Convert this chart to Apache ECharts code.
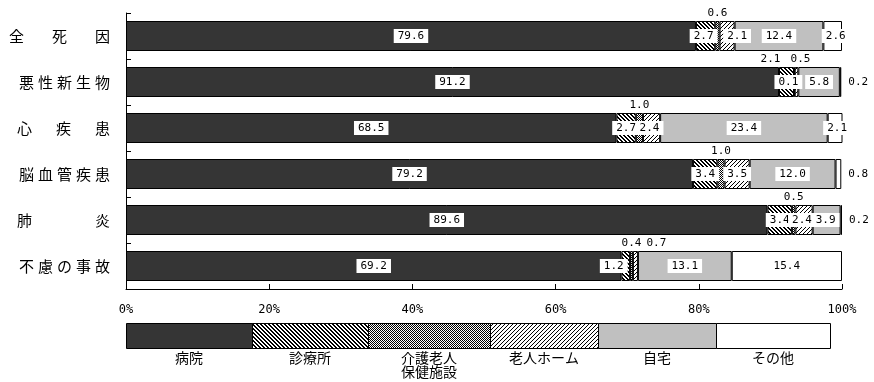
<!DOCTYPE html>
<html>
<head>
<meta charset="utf-8">
<script src="https://cdn.jsdelivr.net/npm/echarts@6/dist/echarts.min.js"></script>
<style>
html,body{margin:0;padding:0;background:#fff;}
#chart{width:874px;height:382px;}
</style>
</head>
<body>
<div id="chart"></div>
<script>
// ---------------- data ----------------
const categories = ['全死因', '悪性新生物', '心疾患', '脳血管疾患', '肺炎', '不慮の事故'];
const seriesNames = ['病院', '診療所', '介護老人保健施設', '老人ホーム', '自宅', 'その他'];
const hospital     = [79.6, 91.2, 68.5, 79.2, 89.6, 69.2];
const clinic       = [2.7, 2.1, 2.7, 3.4, 3.4, 1.2];
const careFacility = [0.6, 0.1, 1.0, 1.0, 0.5, 0.4];
const nursingHome  = [2.1, 0.5, 2.4, 3.5, 2.4, 0.7];
const home         = [12.4, 5.8, 23.4, 12.0, 3.9, 13.1];
const other        = [2.6, 0.2, 2.1, 0.8, 0.2, 15.4];
const xTickValues  = [0, 20, 40, 60, 80, 100];
const legendLabels = ['病院', '診療所', '介護老人\n保健施設', '老人ホーム', '自宅', 'その他'];

// ---------------- styles ----------------
function makePattern(size, fn) {
  const c = document.createElement('canvas');
  c.width = size; c.height = size;
  const ctx = c.getContext('2d');
  ctx.fillStyle = '#fff'; ctx.fillRect(0, 0, size, size);
  ctx.fillStyle = '#000';
  for (let y = 0; y < size; y++) for (let x = 0; x < size; x++) if (fn(x, y)) ctx.fillRect(x, y, 1, 1);
  return { image: c, repeat: 'repeat' };
}
const patBack = makePattern(4, (x, y) => ((x - y + 8) % 4) === 0 || ((x - y + 8) % 4) === 1);
const patCheck = makePattern(2, (x, y) => (x + y) % 2 === 0);
const patFwd = makePattern(4, (x, y) => ((x + y) % 4) === 0);
const fills = ['#353535', patBack, patCheck, patFwd, '#c0c0c0', '#ffffff'];

// label placement per [row][series]: [mode, dx]
const placement = [
  [['in',0],['in',-2],['top',0],['in',10],['in',0],['in',3]],
  [['in',0],['top',-16],['in',-6],['top',4],['in',0],['right',0]],
  [['in',0],['in',0],['top',0],['in',-2],['in',0],['in',2]],
  [['in',0],['in',0],['top',0],['in',0],['in',0],['right',0]],
  [['in',0],['in',0],['top',0],['in',-2],['in',-1],['right',0]],
  [['in',0],['in',-12],['top',0],['top',21],['in',0],['in',0]]
];
const categoryGaps = { '全死因': 24, '心疾患': 20, '肺炎': 59 };

const allSeries = [hospital, clinic, careFacility, nursingHome, home, other];

const labelBase = {
  show: true,
  color: '#000',
  backgroundColor: '#fff',
  padding: [2, 4, 1, 4],
  fontFamily: 'DejaVu Sans Mono',
  fontSize: 11,
  lineHeight: 11,
  formatter: p => Number(p.value).toFixed(1)
};

const series = allSeries.map((arr, si) => ({
  name: seriesNames[si],
  type: 'bar',
  stack: 'total',
  barWidth: 30,
  itemStyle: { color: fills[si], borderColor: '#000', borderWidth: 1 },
  emphasis: { disabled: true },
  data: arr.map((v, ri) => {
    const [mode, dx] = placement[ri][si];
    let lab;
    if (mode === 'in') lab = Object.assign({}, labelBase, { position: 'inside', offset: [dx, 0] });
    else if (mode === 'top') lab = Object.assign({}, labelBase, { position: 'top', distance: 1, offset: [dx, 0] });
    else lab = Object.assign({}, labelBase, { position: 'right', distance: 3, offset: [dx, 0] });
    return { value: v, label: lab };
  })
}));

// rich text for category labels
const rich = { c: { width: 19, align: 'center', fontSize: 15, fontFamily: 'Noto Sans CJK JP', color: '#000' } };
Object.values(categoryGaps).forEach(g => { rich['g' + g] = { width: g, fontSize: 15 }; });
function catFormatter(name) {
  const gap = categoryGaps[name];
  return name.split('').map(ch => '{c|' + ch + '}').join(gap ? '{g' + gap + '| }' : '');
}

// legend
const legendEdges = [126, 252, 368, 490, 598, 716, 830];
const legendGraphics = [];
for (let i = 0; i < 6; i++) {
  legendGraphics.push({
    type: 'rect',
    shape: { x: legendEdges[i] + 0.5, y: 323.5, width: legendEdges[i + 1] - legendEdges[i], height: 25 },
    style: { fill: fills[i], stroke: '#000', lineWidth: 1 }
  });
  const two = legendLabels[i].indexOf('\n') >= 0;
  legendGraphics.push({
    type: 'text',
    x: (legendEdges[i] + legendEdges[i + 1]) / 2,
    y: two ? 365 : 358,
    style: {
      text: legendLabels[i], fill: '#000', font: '14px "Noto Sans CJK JP"',
      textAlign: 'center', textVerticalAlign: 'middle', lineHeight: 14
    }
  });
}

const chart = echarts.init(document.getElementById('chart'), null, { renderer: 'canvas' });
chart.setOption({
  animation: false,
  backgroundColor: '#fff',
  grid: { left: 126, right: 32, top: 13, bottom: 93, containLabel: false },
  xAxis: {
    type: 'value', min: 0, max: 100, interval: 20,
    axisLine: { show: true, lineStyle: { color: '#000', width: 1 } },
    axisTick: { show: true, inside: true, length: 5, lineStyle: { color: '#000' } },
    splitLine: { show: false },
    axisLabel: {
      margin: 15, color: '#000', fontFamily: 'DejaVu Sans Mono', fontSize: 12,
      customValues: xTickValues,
      formatter: v => v + '%'
    }
  },
  yAxis: {
    type: 'category', data: categories, inverse: true,
    axisLine: { show: true, lineStyle: { color: '#000', width: 1 } },
    axisTick: { show: true, inside: true, length: 5, lineStyle: { color: '#000' } },
    axisLabel: { margin: 14, formatter: catFormatter, rich: rich }
  },
  series: series,
  graphic: legendGraphics
});
</script>
</body>
</html>
